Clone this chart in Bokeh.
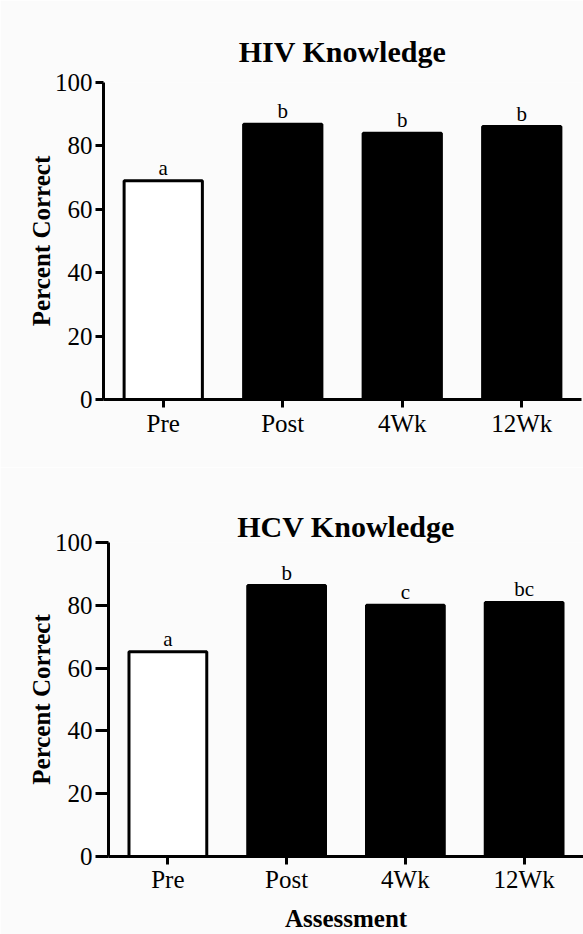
from bokeh.plotting import figure
from bokeh.models import ColumnDataSource, FixedTicker, Title
from bokeh.core.properties import value
from bokeh.embed import file_html
from bokeh.resources import INLINE

# ---- data ----
categories = ["Pre", "Post", "4Wk", "12Wk"]
hiv_values = [69.0, 86.8, 84.0, 86.1]
hiv_letters = ["a", "b", "b", "b"]
hcv_values = [65.2, 86.3, 80.0, 80.9]
hcv_letters = ["a", "b", "c", "bc"]
bar_fills = ["white", "black", "black", "black"]
y_ticks = [0, 20, 40, 60, 80, 100]

FONT = "Liberation Serif"
BG = "#fbfbfb"


def make_panel(title, values, letters, height, left, right, top, bottom,
               title_standoff, tick_standoff, ytick_out, xlabel=None):
    src = ColumnDataSource(dict(cat=categories, val=values, lab=letters, fill=bar_fills))
    p = figure(x_range=categories, y_range=(0, 100), width=583, height=height,
               output_backend="svg", toolbar_location=None,
               min_border_left=left, min_border_right=right,
               min_border_top=top, min_border_bottom=bottom)
    p.x_range.range_padding = 0
    p.vbar(x="cat", top="val", width=0.655, source=src, fill_color="fill",
           line_color="black", line_width=3)
    p.text(x="cat", y="val", text="lab", source=src, text_align="center",
           text_baseline="alphabetic", y_offset=-13, text_font=value(FONT),
           text_font_size="21px", text_color="black")

    p.add_layout(Title(text=title, align="center", text_font=FONT,
                       text_font_size="30px", text_font_style="bold",
                       text_color="black", standoff=title_standoff), "above")

    p.background_fill_color = BG
    p.border_fill_color = BG
    p.outline_line_color = None
    p.grid.grid_line_color = None

    for ax in (p.xaxis[0], p.yaxis[0]):
        ax.axis_line_width = 3
        ax.axis_line_color = "black"
        ax.major_tick_line_width = 3
        ax.major_tick_line_color = "black"
        ax.major_tick_in = 0
        ax.major_tick_out = 8
        ax.minor_tick_line_color = None
        ax.major_label_text_font = FONT
        ax.major_label_text_font_size = "25px"
        ax.major_label_text_color = "black"
        ax.axis_label_text_font = FONT
        ax.axis_label_text_font_size = "25px"
        ax.axis_label_text_font_style = "bold"
        ax.axis_label_text_color = "black"

    p.yaxis.ticker = FixedTicker(ticks=y_ticks)
    p.yaxis.major_tick_out = ytick_out
    p.yaxis.major_label_standoff = 3
    p.yaxis.axis_label = "Percent Correct"
    p.yaxis.axis_label_standoff = -3
    p.xaxis.major_label_standoff = tick_standoff
    if xlabel:
        p.xaxis.axis_label = xlabel
        p.xaxis.axis_label_standoff = 9
    return p


p1 = make_panel("HIV Knowledge", hiv_values, hiv_letters, 467, 103, 2, 82, 68, 30, 2, 8)
p2 = make_panel("HCV Knowledge", hcv_values, hcv_letters, 467, 108, 0, 75, 74, 0, 1, 13,
                "Assessment")

html = file_html([p1, p2], INLINE)
html = html.replace("<body>", '<body style="margin:0;background:%s">' % BG, 1)
with open("out.html", "w") as f:
    f.write(html)
